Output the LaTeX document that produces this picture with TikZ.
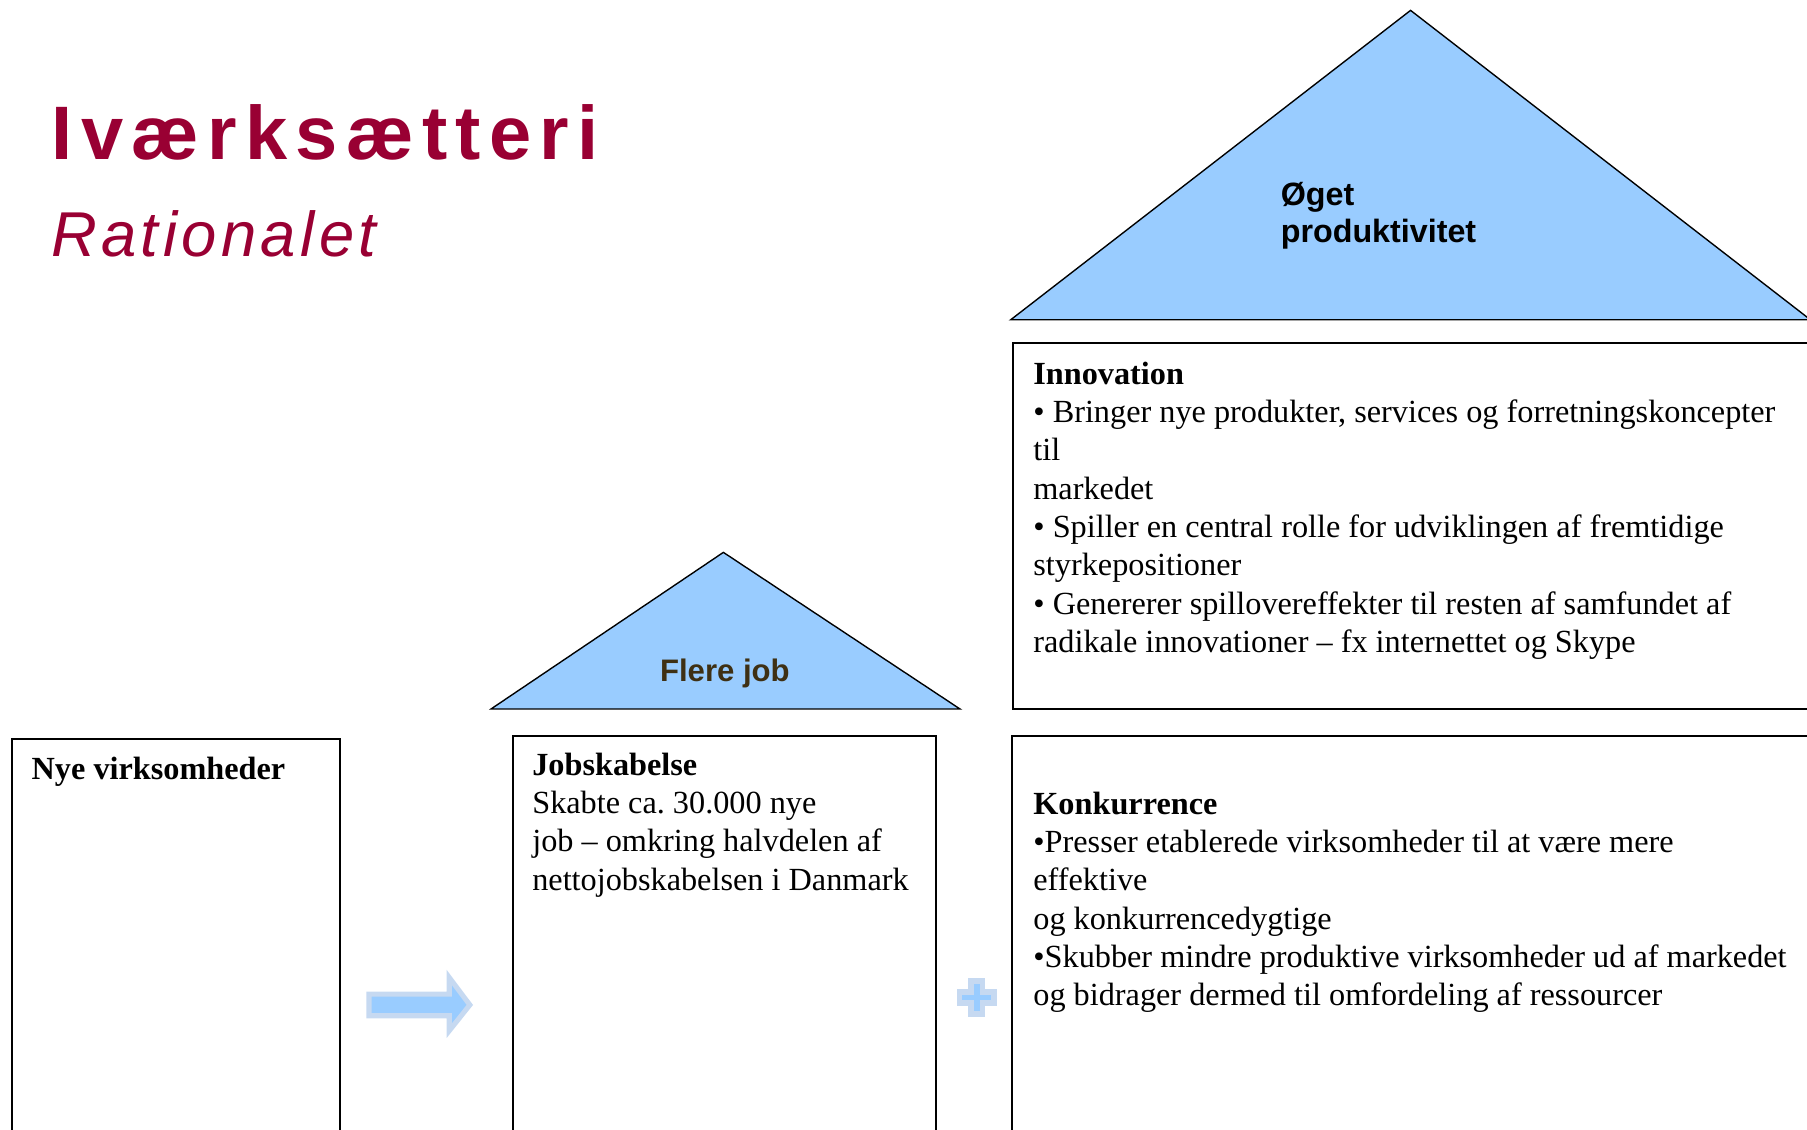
\documentclass[tikz,border=0pt]{standalone}
\usepackage{fontspec}
\setmainfont{Liberation Serif}
\setsansfont{Liberation Sans}
\frenchspacing
\definecolor{titlered}{RGB}{153,0,51}
\definecolor{triblue}{RGB}{153,204,255}
\definecolor{ghostedge}{RGB}{198,217,241}
\definecolor{flerebrown}{RGB}{62,48,20}
\begin{document}
\begin{tikzpicture}[x=0.5pt,y=-0.5pt,
  boxline/.style={draw=black,line width=0.9pt},
  body/.style={font=\fontsize{14}{16.65}\selectfont\frenchspacing, align=left, anchor=north west, inner sep=0pt, outer sep=0pt},
  tri/.style={fill=triblue, draw=black, line width=0.6pt, line join=miter},
  ghost/.style={fill=triblue, draw=ghostedge, line join=miter},
  headtext/.style={anchor=base west, inner sep=0pt, text=titlered}
]
\useasboundingbox (0,0) rectangle (1568,979.7);
\clip (0,0) rectangle (1568,979.7);

% title
\node[headtext, font=\fontsize{32.9}{39}\selectfont\sffamily\bfseries\addfontfeature{LetterSpace=11}] (title) at (44.5,138.8) {Iværksætteri};
\node[headtext, font=\fontsize{27.5}{33}\selectfont\sffamily\itshape\addfontfeature{LetterSpace=7}] (subtitle) at (44,222.7) {Rationalet};

% big triangle
\coordinate (bigtop) at (1224,9);
\coordinate (bigL) at (877,277.5);
\coordinate (bigR) at (1571,277.5);
\draw[tri] (bigL) -- (bigtop) -- (bigR) -- cycle;
\node[anchor=north west, inner sep=0pt, align=left, font=\fontsize{14}{15.7}\selectfont\sffamily\bfseries] (oget) at (1111,156.3) {\strut Øget\\produktivitet};

% small triangle
\coordinate (smtop) at (627.7,479.3);
\coordinate (smL) at (426.1,615.2);
\coordinate (smR) at (833,615.2);
\draw[tri] (smL) -- (smtop) -- (smR) -- cycle;
\node[anchor=base, inner sep=0pt, text=flerebrown, font=\fontsize{13.5}{16}\selectfont\sffamily\bfseries] (flere) at (629,591.5) {Flere job};

% boxes
\draw[boxline] (878.8,297.4) rectangle (1590,615.2);
\draw[boxline] (878.3,638.7) rectangle (1590,1000);
\draw[boxline] (445.4,638.7) rectangle (812.2,1000);
\draw[boxline] (10.1,641.3) rectangle (295,1000);

% texts
\node[body] (nye) at (27.5,653.0) {\strut\textbf{Nye virksomheder}};
\node[body] (job) at (461.9,649.2) {\strut\textbf{Jobskabelse}\\Skabte ca. 30.000 nye\\job – omkring halvdelen af\\nettojobskabelsen i Danmark};
\node[body] (innov) at (896.7,309.9) {\strut\textbf{Innovation}\\• Bringer nye produkter, services og forretningskoncepter\\til\\markedet\\• Spiller en central rolle for udviklingen af fremtidige\\styrkepositioner\\• Genererer spillovereffekter til resten af samfundet af\\radikale innovationer – fx internettet og Skype};
\node[body] (konk) at (896.7,683.1) {\strut\textbf{Konkurrence}\\•Presser etablerede virksomheder til at være mere\\effektive\\og konkurrencedygtige\\•Skubber mindre produktive virksomheder ud af markedet\\og bidrager dermed til omfordeling af ressourcer};

% arrow
\draw[ghost, line width=2.2pt] (320.2,862.7) -- (389.8,862.7) -- (389.8,848.2) -- (407.7,872) -- (389.8,894.4) -- (389.8,881.4) -- (320.2,881.4) -- cycle;

% plus
\draw[ghost, line width=2.35pt] (842.7,851.4) -- (852.3,851.4) -- (852.3,860.9) -- (862.6,860.9) -- (862.6,870.3) -- (852.3,870.3) -- (852.3,879.8) -- (842.7,879.8) -- (842.7,870.3) -- (832.4,870.3) -- (832.4,860.9) -- (842.7,860.9) -- cycle;
\end{tikzpicture}
\end{document}
